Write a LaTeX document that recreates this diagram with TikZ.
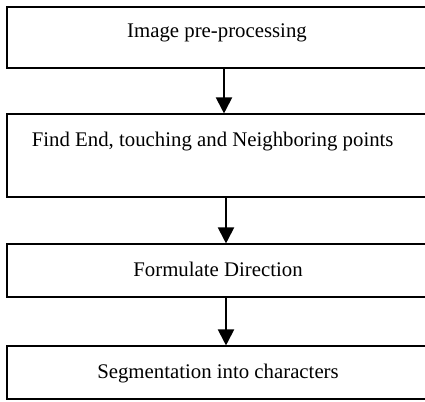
\documentclass[tikz,border=0pt]{standalone}
\usepackage{fontspec}
\setmainfont{Liberation Serif}
\usetikzlibrary{arrows.meta}
\begin{document}
\begin{tikzpicture}[x=1pt,y=-1pt,
  box/.style={draw=black,line width=1.1pt,rectangle,inner sep=0pt},
  lbl/.style={anchor=base,inner sep=0pt,font=\fontsize{20.8}{25}\selectfont},
  flow/.style={line width=2pt,-{Triangle[length=16pt,width=16pt]}}]
\useasboundingbox (0,0) rectangle (425,401);
\node[box,minimum width=419pt,minimum height=61pt] (b1) at (216.5,37.5) {};
\node[box,minimum width=419pt,minimum height=83pt] (b2) at (216.5,155.5) {};
\node[box,minimum width=419pt,minimum height=53pt] (b3) at (216.5,270.5) {};
\node[box,minimum width=419pt,minimum height=53pt] (b4) at (216.5,372.5) {};
\node[lbl] (t1) at (217,38) {Image pre-processing};
\node[lbl] (t2) at (212.7,146.7) {Find End, touching and Neighboring points};
\node[lbl] (t3) at (218,276.7) {Formulate Direction};
\node[lbl] (t4) at (218,378) {Segmentation into characters};
\draw[flow] (b1.south -| 224,0) -- (b2.north -| 224,0);
\draw[flow] (b2.south -| 226,0) -- (b3.north -| 226,0);
\draw[flow] (b3.south -| 226,0) -- (b4.north -| 226,0);
\end{tikzpicture}
\end{document}
